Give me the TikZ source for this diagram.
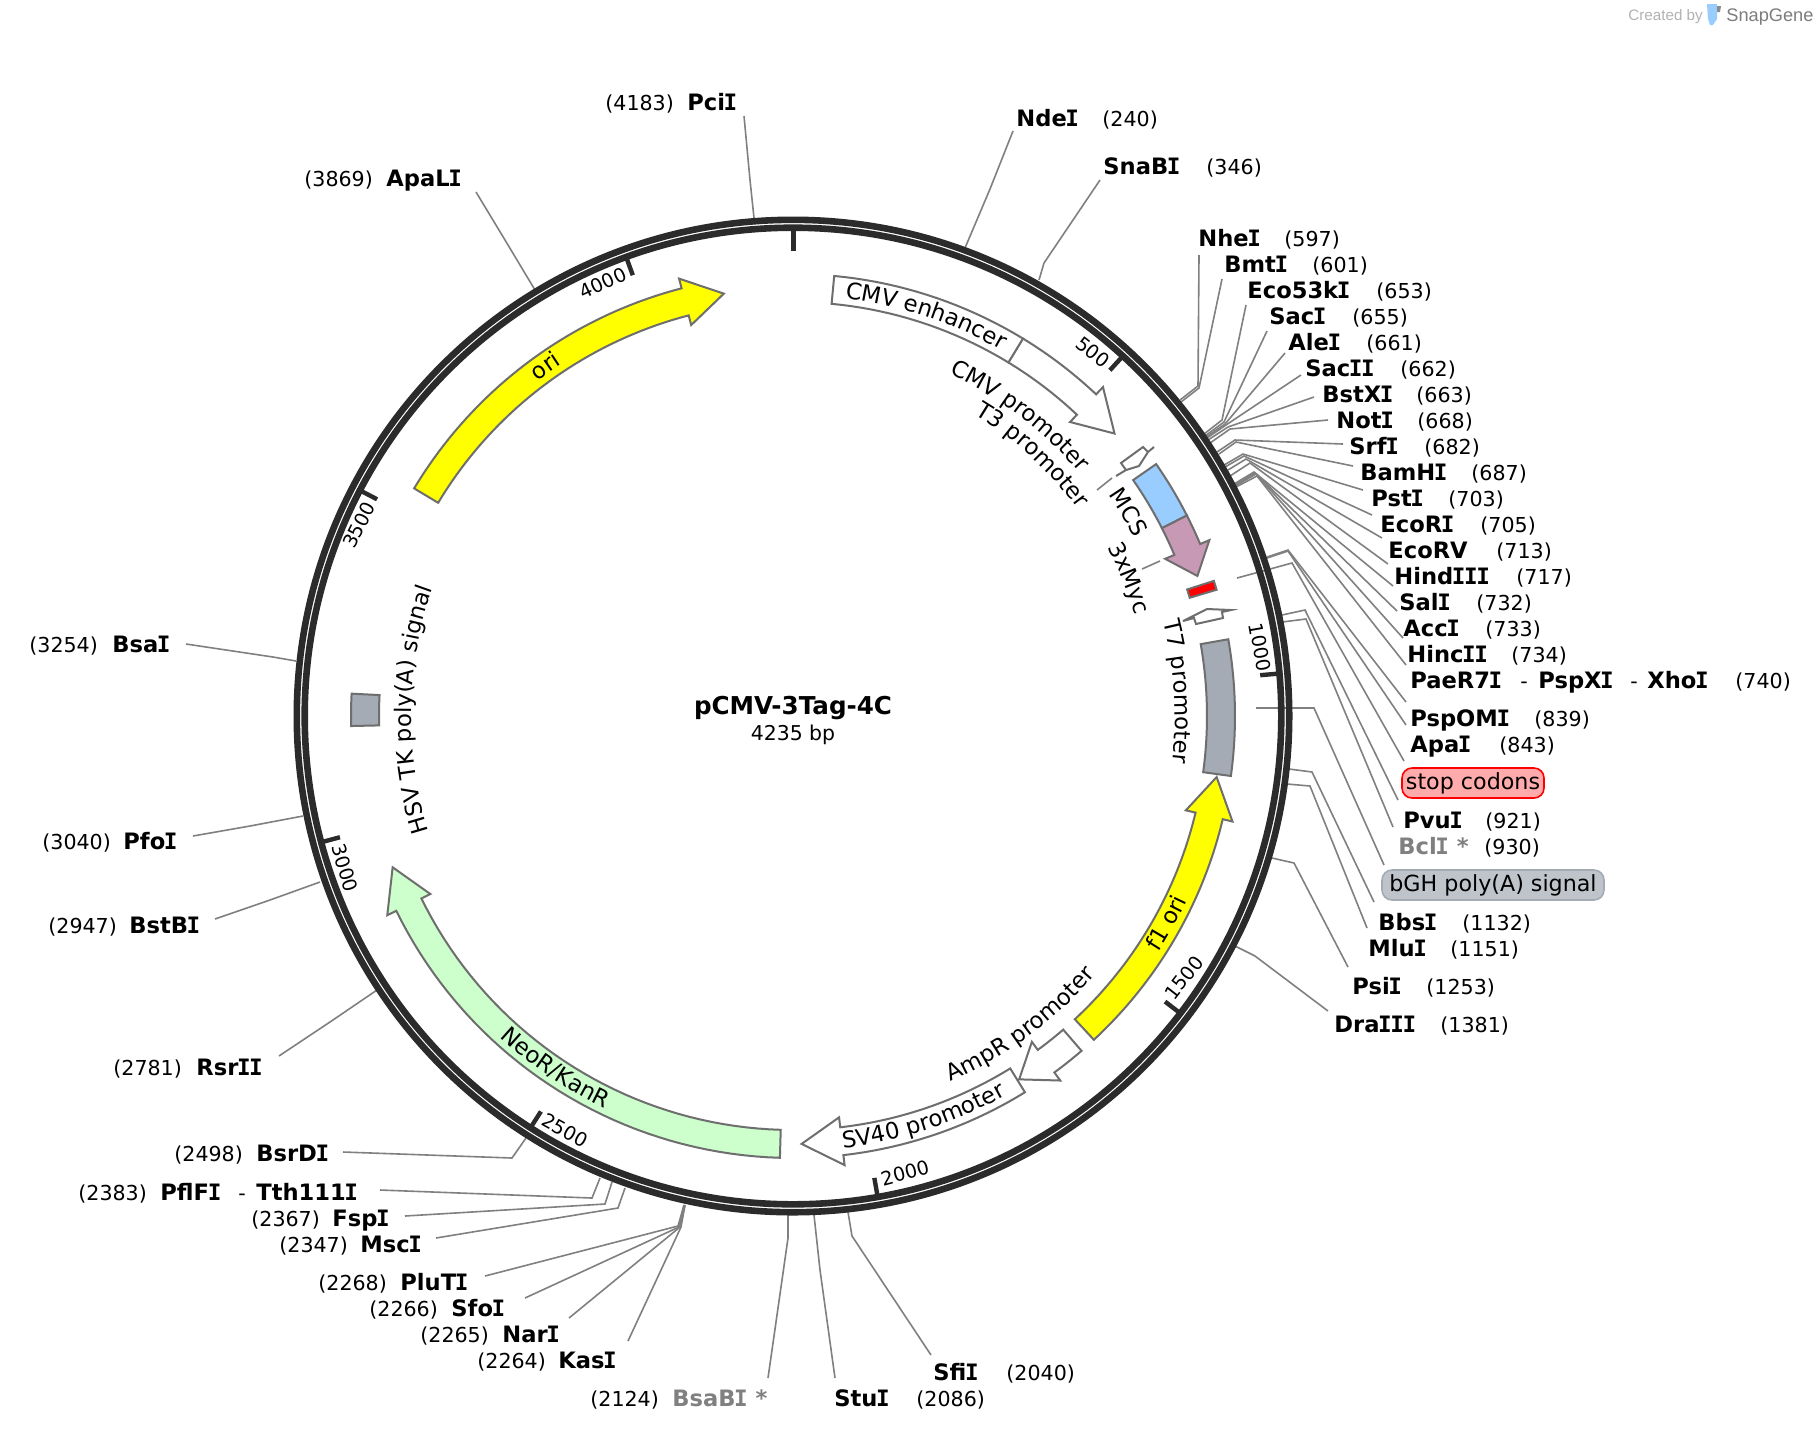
\documentclass[tikz,border=0pt]{standalone}
\usepackage{fontspec}
\setmainfont{DejaVu Sans}
\newfontfamily\brandfont{Liberation Sans}
\newfontfamily\slabfont{DejaVu Sans Mono}
\usetikzlibrary{decorations.text}
\definecolor{ringgray}{RGB}{43,43,43}
\definecolor{leadergray}{RGB}{128,128,128}
\definecolor{edgegray}{RGB}{110,110,110}
\definecolor{mcsblue}{RGB}{153,204,255}
\definecolor{mycpink}{RGB}{200,153,180}
\definecolor{neogreen}{RGB}{204,255,204}
\definecolor{polygray}{RGB}{164,171,181}
\definecolor{oriyellow}{RGB}{255,255,0}
\newcommand{\featfont}{\fontsize{11.4}{13}\selectfont}
% the capital I of the site names has slabs
\newXeTeXintercharclass\slabclass
\XeTeXcharclass `\I=\slabclass
\XeTeXinterchartoks 0 \slabclass={\kern-0.7pt\slabfont\bfseries}
\XeTeXinterchartoks \slabclass \slabclass={\kern-0.7pt}
\XeTeXinterchartoks \slabclass 0={\kern-0.2pt\rmfamily\bfseries}
\newcommand{\sitefont}{\XeTeXinterchartokenstate=1 \fontsize{11.3}{13}\selectfont\bfseries}
% arrow on the map: fill, tail angle, head base angle, tip angle
\newcommand{\featarrow}[4]{
    \draw[feat, fill=#1] plot[domain=#2:#3, samples=40] (\x-90:442) -- (#3-90:452) -- (#4-90:428)
          -- (#3-90:404) -- plot[domain=#3:#2, samples=40] (\x-90:414) -- cycle;
}
% block on the map: fill, start angle, end angle
\newcommand{\featblock}[3]{
    \draw[feat, fill=#1] plot[domain=#2:#3, samples=20] (\x-90:442)
          -- plot[domain=#3:#2, samples=20] (\x-90:414) -- cycle;
}
% text bent round the map: text, start angle, end angle, radius
\newcommand{\arclabel}[4]{
    \path[decorate, decoration={text along path, text={|\featfont|#1}, text align=center}]
          plot[domain=#2:#3, samples=61] (\x-90:#4);
}
\tikzset{
    sitename/.style={font=\sitefont, anchor=base west, inner sep=0pt},
    sitebp/.style={font=\fontsize{10.3}{13}\selectfont, anchor=base west, inner sep=0pt},
    leader/.style={leadergray, line width=0.8pt},
    feat/.style={edgegray, line width=1pt, line join=miter},
    tickmark/.style={ringgray, line width=2.2pt},
    ticktext/.style={font=\fontsize{9.6}{11}\selectfont, inner sep=0pt},
    tagbox/.style={rounded corners=5pt, line width=0.8pt, minimum width=71pt, minimum height=15pt,
        inner sep=0pt, font=\fontsize{11.1}{13}\selectfont}
}

\begin{document}
\begin{tikzpicture}[x=0.5pt, y=-0.5pt]
    \useasboundingbox (0,0) rectangle (1820,1432);
    \fill[white] (0,0) rectangle (1820,1432);

    % Site labels and their leaders: name, x, baseline, position, x, end, bend, ring
    \foreach \nm/\nmx/\lby/\bp/\bpx/\ex/\ey/\mx/\my/\rx/\ry in {
        NdeI/1017/126/240/1103/1013/131/990/189/965/248,
        SnaBI/1104/174/346/1207/1100/180/1044/263/1039/280,
        NheI/1199/246/597/1285/1199/255/1198/386/1180/400,
        BmtI/1225/272/601/1313/1222/279/1199/388/1181/402,
        Eco53kI/1248/298/653/1377/1246/305/1222/420/1204/434,
        SacI/1270/324/655/1353/1267/331/1224/422/1205/436,
        AleI/1289/350/661/1367/1285/353/1225/424/1206/437,
        SacII/1306/376/662/1401/1301/375/1226/425/1207/438,
        BstXI/1323/402/663/1417/1314/397/1228/427/1208/440,
        NotI/1337/428/668/1418/1328/420/1230/429/1210/443,
        SrfI/1350/454/682/1425/1343/444/1235/440/1217/452,
        BamHI/1361/480/687/1472/1353/466/1236/442/1219/454,
        PstI/1372/506/703/1449/1363/490/1243/454/1224/465,
        EcoRI/1381/532/705/1481/1372/515/1244/456/1225/467,
        EcoRV/1389/558/713/1497/1382/538/1246/459/1228/470,
        HindIII/1395/584/717/1517/1388/564/1250/463/1230/476,
        SalI/1400/610/732/1477/1393/586/1254/472/1234/484,
        AccI/1404/636/733/1486/1397/611/1255/473/1235/485,
        HincII/1408/662/734/1512/1403/638/1256/474/1235/486,
        PspOMI/1411/726/839/1535/1406/702/1288/550/1267/557,
        ApaI/1411/752/843/1500/1406/725/1288/551/1267/558,
        PvuI/1404/828/921/1486/1398/800/1305/610/1282/615,
        BbsI/1379/930/1132/1463/1374/902/1312/772/1289/769,
        MluI/1369/956/1151/1451/1367/928/1310/786/1287/784,
        PsiI/1353/994/1253/1427/1348/967/1294/863/1272/858,
        DraIII/1335/1032/1381/1441/1328/1011/1255/956/1235/946,
        SfiI/934/1380/2040/1007/931/1355/852/1236/848/1212,
        StuI/835/1406/2086/917/835/1378/820/1270/814/1215,
        KasI/559/1368/2264/478/628/1341/681/1227/685/1205,
        NarI/503/1342/2265/421/569/1318/680/1227/685/1205,
        SfoI/452/1316/2266/370/525/1298/679/1227/684/1205,
        PluTI/401/1290/2268/319/485/1276/678/1226/684/1205,
        MscI/361/1252/2347/280/436/1238/618/1208/625/1188,
        FspI/333/1226/2367/252/405/1216/605/1204/612/1182,
        BsrDI/257/1161/2498/175/343/1152/512/1158/526/1138,
        RsrII/197/1075/2781/114/279/1056/330/1022/377/990,
        BstBI/130/933/2947/49/215/919/270/900/320/882,
        PfoI/124/849/3040/43/193/836/250/826/303/816,
        BsaI/113/652/3254/30/186/644/273/657/296/661,
        ApaLI/387/186/3869/305/476/192/505/240/535/290,
        PciI/688/110/4183/606/744/116/750/180/754/218}{
        \node[sitename] (\nm) at (\nmx-1,\lby) {\nm};
        \node[sitebp] (\nm bp) at (\bpx-1,\lby) {(\bp)};
        \coordinate (\nm end) at (\ex,\ey);
        \coordinate (\nm bend) at (\mx,\my);
        \coordinate (\nm cut) at (\rx,\ry);
        \draw[leader] (\nm cut) -- (\nm bend) -- (\nm end);
    }

    % Labels with more than one enzyme or a grey name
    \node[sitename] (PaeR7I) at (1410,688) {PaeR7I};
    \node[sitebp] (dashone) at (1520,688) {-};
    \node[sitename] (PspXI) at (1538,688) {PspXI};
    \node[sitebp] (dashtwo) at (1630,688) {-};
    \node[sitename] (XhoI) at (1647,688) {XhoI};
    \node[sitebp] (XhoI bp) at (1735,688) {(740)};
    \coordinate (PaeR7I end) at (1406,665);
    \coordinate (PaeR7I bend) at (1257,476);
    \coordinate (PaeR7I cut) at (1236,487);
    \draw[leader] (PaeR7I cut) -- (PaeR7I bend) -- (PaeR7I end);

    \node[sitename, text=leadergray] (BclI) at (1398,854) {BclI\rmfamily\bfseries{} *};
    \node[sitebp] (BclI bp) at (1484,854) {(930)};
    \coordinate (BclI end) at (1393,827);
    \coordinate (BclI bend) at (1306,619);
    \coordinate (BclI cut) at (1282,622);
    \draw[leader] (BclI cut) -- (BclI bend) -- (BclI end);

    \node[sitename, text=leadergray] (BsaBI) at (672,1406) {BsaBI\rmfamily\bfseries{} *};
    \node[sitebp] (BsaBI bp) at (590,1406) {(2124)};
    \coordinate (BsaBI end) at (768,1378);
    \coordinate (BsaBI bend) at (788,1238);
    \coordinate (BsaBI cut) at (788,1214);
    \draw[leader] (BsaBI cut) -- (BsaBI bend) -- (BsaBI end);

    \node[sitebp] (PflFI bp) at (78,1200) {(2383)};
    \node[sitename] (PflFI) at (160,1200) {PflFI};
    \node[sitebp] (dashthree) at (238,1200) {-};
    \node[sitename] (Tth111I) at (256,1200) {Tth111I};
    \coordinate (PflFI end) at (380,1190);
    \coordinate (PflFI bend) at (592,1198);
    \coordinate (PflFI cut) at (600,1178);
    \draw[leader] (PflFI cut) -- (PflFI bend) -- (PflFI end);

    % Tagged features
    \node[tagbox, draw=red, fill=red!33] (stopbox) at (1473,783) {stop codons};
    \coordinate (stop end) at (1404,761);
    \coordinate (stop bend) at (1292,563);
    \coordinate (stop cut) at (1237,578);
    \draw[leader] (stop cut) -- (stop bend) -- (stop end);

    \node[tagbox, draw=polygray, fill=polygray!70, minimum width=111pt] (bghbox) at (1493,885) {bGH poly(A) signal};
    \coordinate (bgh end) at (1384,865);
    \coordinate (bgh bend) at (1314,708);
    \coordinate (bgh cut) at (1256,708);
    \draw[leader] (bgh cut) -- (bgh bend) -- (bgh end);

    \begin{scope}[shift={(793,716)}]
        % Backbone
        \coordinate (hub) at (0,0);
        \draw[ringgray, line width=3.3pt] (hub) circle[radius=248.1pt];
        \draw[ringgray, line width=3.3pt] (hub) circle[radius=244.15pt];
        \draw[ringgray, line width=2.5pt] (-90:465) -- (-90:487);
        \foreach \tk in {500,1000,...,4000}{
            \draw[tickmark] (\tk*0.085-90:469) -- (\tk*0.085-90:487);
        }

        % Features
        \featarrow{oriyellow}{-59}{-14.6}{-9.3}
        \featarrow{oriyellow}{137.1}{103.5}{98.2}
        \featarrow{white}{139.25}{143.75}{148.1}
        \featarrow{white}{148.35}{173.45}{178.85}
        \featarrow{neogreen}{181.7}{243.85}{249.3}
        \featarrow{white}{31.35}{43.3}{48.7}
        \featblock{white}{5.35}{31.35}
        \featarrow{mycpink}{63}{67.1}{70.9}
        \featblock{mcsblue}{55.25}{63}
        \featblock{red}{72.2}{73.4}
        \featblock{polygray}{80}{97.8}
        \featblock{polygray}{268.7}{272.9}

        % Feature names
        \arclabel{CMV enhancer}{-11.6}{48.4}{421}
        \arclabel{CMV promoter}{7.1}{67.1}{376}
        \arclabel{T3 promoter}{12.5}{72.5}{352}
        \arclabel{MCS}{38.7}{78.7}{385}
        \arclabel{3xMyc}{47.7}{87.7}{357}
        \arclabel{T7 promoter}{56.4}{116.4}{382}
        \arclabel{ori}{-55.3}{-15.3}{421}
        \arclabel{f1 ori}{139}{99}{435}
        \arclabel{AmpR promoter}{173.6}{113.6}{398}
        \arclabel{SV40 promoter}{192}{132}{435}
        \arclabel{NeoR/KanR}{244}{184}{435}
        \arclabel{HSV TK poly(A) signal}{241}{301}{382}
    \end{scope}

    % Small promoter arrows
    \draw[feat] (1116,476) -- (1126,470) -- (1139,466) -- (1148,452) -- (1154,447);
    \draw[feat] (1148,452) -- (1143,447) -- (1121,463) -- (1126,470);
    \draw[feat] (1183,621) -- (1207,609) -- (1231,610) -- (1222,612) -- (1223,618) -- (1196,624) -- (1194,618) -- cycle;
    \coordinate (t3 from) at (1097,490);
    \coordinate (t3 to) at (1112,478);
    \draw[leader] (t3 from) -- (t3 to);
    \coordinate (myc from) at (1142,569);
    \coordinate (myc to) at (1160,561);
    \draw[leader] (myc from) -- (myc to);

    % Ruler numbers
    \foreach \tk/\tx/\ty/\rot in {500/1093/352/-38, 1000/1260/647/-80, 1500/1184/978/52, 2000/905/1173/15,
        2500/565/1130/-29, 3000/345/868/-73, 3500/359/525/63, 4000/603/283/25}{
        \node[ticktext, rotate=\rot] (ruler\tk) at (\tx,\ty) {\tk};
    }

    % Plasmid name
    \node[font=\fontsize{12.3}{14}\selectfont\bfseries, inner sep=0pt] (plasmid) at (793,708) {pCMV-3Tag-4C};
    \node[font=\fontsize{10.2}{12}\selectfont, inner sep=0pt] (plasmidsize) at (793,735) {4235 bp};

    % Watermark
    \node[font=\fontsize{7.6}{9}\selectfont\brandfont, text=black!30, anchor=base west, inner sep=0pt] (createdby) at (1628,20) {Created by};
    \node[font=\fontsize{9.1}{11}\selectfont\brandfont, text=edgegray!90, anchor=base west, inner sep=0pt] (brand) at (1726,21) {SnapGene};
    \fill[mcsblue] (1707,4) -- (1717,4) -- (1717,19) -- (1713,25) -- (1710,25) -- (1708,19) -- cycle;
    \fill[edgegray!80] (1717,6) -- (1721,6) -- (1720,12) -- (1717,12) -- cycle;
\end{tikzpicture}
\end{document}
